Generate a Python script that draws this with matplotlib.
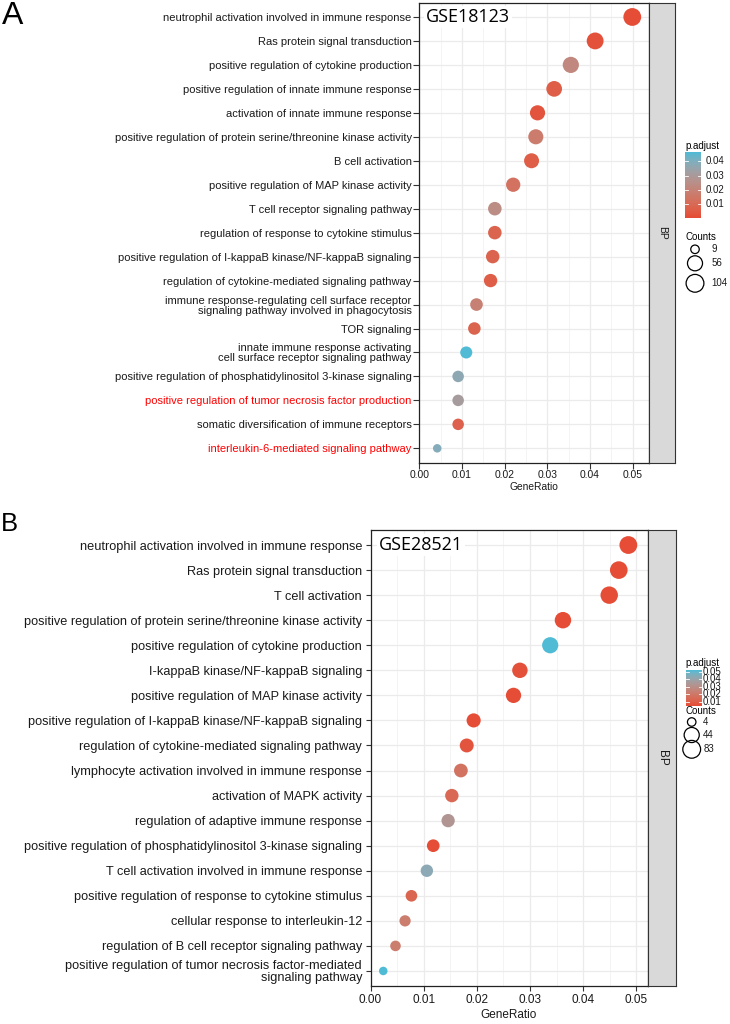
import numpy as np
import matplotlib
matplotlib.use("Agg")
import matplotlib.pyplot as plt
from matplotlib.colors import ListedColormap, Normalize

W, H = 730, 1024

# ---- panel A: GSE18123 ----
terms_a = [
    "neutrophil activation involved in immune response",
    "Ras protein signal transduction",
    "positive regulation of cytokine production",
    "positive regulation of innate immune response",
    "activation of innate immune response",
    "positive regulation of protein serine/threonine kinase activity",
    "B cell activation",
    "positive regulation of MAP kinase activity",
    "T cell receptor signaling pathway",
    "regulation of response to cytokine stimulus",
    "positive regulation of I-kappaB kinase/NF-kappaB signaling",
    "regulation of cytokine-mediated signaling pathway",
    "immune response-regulating cell surface receptor\nsignaling pathway involved in phagocytosis",
    "TOR signaling",
    "innate immune response activating\ncell surface receptor signaling pathway",
    "positive regulation of phosphatidylinositol 3-kinase signaling",
    "positive regulation of tumor necrosis factor production",
    "somatic diversification of immune receptors",
    "interleukin-6-mediated signaling pathway",
]
ratio_a = [0.0499, 0.0412, 0.0355, 0.0316, 0.0277, 0.0273, 0.0263, 0.0220, 0.0177,
           0.0177, 0.0172, 0.0167, 0.0134, 0.0129, 0.0110, 0.0091, 0.0091, 0.0091, 0.0042]
count_a = [104, 86, 74, 66, 58, 57, 55, 46, 37, 37, 36, 35, 28, 27, 23, 19, 19, 19, 9]
padj_a = [0.001, 0.002, 0.022, 0.006, 0.003, 0.017, 0.006, 0.013, 0.024, 0.008,
          0.008, 0.006, 0.019, 0.008, 0.046, 0.037, 0.031, 0.007, 0.039]
red_terms_a = ["positive regulation of tumor necrosis factor production",
               "interleukin-6-mediated signaling pathway"]
padj_lim_a = (0.0003, 0.0464)
padj_ticks_a = [0.01, 0.02, 0.03, 0.04]
count_legend_a = [9, 56, 104]

# ---- panel B: GSE28521 ----
terms_b = [
    "neutrophil activation involved in immune response",
    "Ras protein signal transduction",
    "T cell activation",
    "positive regulation of protein serine/threonine kinase activity",
    "positive regulation of cytokine production",
    "I-kappaB kinase/NF-kappaB signaling",
    "positive regulation of MAP kinase activity",
    "positive regulation of I-kappaB kinase/NF-kappaB signaling",
    "regulation of cytokine-mediated signaling pathway",
    "lymphocyte activation involved in immune response",
    "activation of MAPK activity",
    "regulation of adaptive immune response",
    "positive regulation of phosphatidylinositol 3-kinase signaling",
    "T cell activation involved in immune response",
    "positive regulation of response to cytokine stimulus",
    "cellular response to interleukin-12",
    "regulation of B cell receptor signaling pathway",
    "positive regulation of tumor necrosis factor-mediated\nsignaling pathway",
]
ratio_b = [0.0485, 0.0467, 0.0449, 0.0362, 0.0338, 0.0281, 0.0269, 0.0194, 0.0181,
           0.0170, 0.0153, 0.0146, 0.0118, 0.0106, 0.0077, 0.0065, 0.0047, 0.0024]
count_b = [83, 80, 77, 62, 58, 48, 46, 33, 31, 29, 26, 25, 20, 18, 13, 11, 8, 4]
padj_b = [0.0045, 0.005, 0.005, 0.005, 0.052, 0.006, 0.005, 0.005, 0.007,
          0.018, 0.014, 0.033, 0.005, 0.043, 0.013, 0.022, 0.022, 0.052]
padj_lim_b = (0.0043, 0.0523)
padj_ticks_b = [0.01, 0.02, 0.03, 0.04, 0.05]
count_legend_b = [4, 44, 83]

LOW, HIGH = "#E64B35", "#4DBBD5"
FONT = "Liberation Sans"
LEG_FS = 7.0


def _srgb_to_lab(rgb):
    c = np.asarray(rgb, float)
    lin = np.where(c <= 0.04045, c / 12.92, ((c + 0.055) / 1.055) ** 2.4)
    m = np.array([[0.4124, 0.3576, 0.1805], [0.2126, 0.7152, 0.0722], [0.0193, 0.1192, 0.9505]])
    xyz = m @ lin / np.array([0.95047, 1.0, 1.08883])
    f = np.where(xyz > 0.008856, np.cbrt(xyz), 7.787 * xyz + 16 / 116)
    return np.array([116 * f[1] - 16, 500 * (f[0] - f[1]), 200 * (f[1] - f[2])])


def _lab_to_srgb(lab):
    L, a, b = lab
    fy = (L + 16) / 116
    f = np.array([fy + a / 500, fy, fy - b / 200])
    xyz = np.where(f ** 3 > 0.008856, f ** 3, (f - 16 / 116) / 7.787) * np.array([0.95047, 1.0, 1.08883])
    m = np.array([[3.2406, -1.5372, -0.4986], [-0.9689, 1.8758, 0.0415], [0.0557, -0.2040, 1.0570]])
    lin = m @ xyz
    c = np.where(lin <= 0.0031308, 12.92 * lin, 1.055 * np.clip(lin, 0, None) ** (1 / 2.4) - 0.055)
    return np.clip(c, 0, 1)


def lab_cmap(low, high, n=256):
    l0 = _srgb_to_lab(matplotlib.colors.to_rgb(low))
    l1 = _srgb_to_lab(matplotlib.colors.to_rgb(high))
    cols = [_lab_to_srgb(l0 + (l1 - l0) * t) for t in np.linspace(0, 1, n)]
    return ListedColormap(cols)


CMAP = lab_cmap(LOW, HIGH)


def px_box(x0, y0, x1, y1):
    return [x0 / W, 1 - y1 / H, (x1 - x0) / W, (y1 - y0) / H]


def dot_area(c, cmin, cmax):
    t = (np.asarray(c, float) - cmin) / (cmax - cmin)
    d_px = 8.5 + 9.3 * np.sqrt(t)
    return (d_px * 0.72) ** 2


def draw_panel(fig, box, strip, title, terms, ratio, count, padj, lim, xmax,
               fs, xfs, tick_len, tick_pad, red_terms=()):
    ax = fig.add_axes(px_box(*box))
    n = len(terms)
    ys = np.arange(1, n + 1)
    ax.set_axisbelow(True)
    ax.scatter(ratio, ys, s=dot_area(count, min(count), max(count)),
               c=padj, cmap=CMAP, norm=Normalize(*lim), linewidths=0, zorder=3)
    ax.set_xlim(0, xmax)
    ax.set_ylim(n + 0.6, 0.4)
    ax.set_xticks([0, 0.01, 0.02, 0.03, 0.04, 0.05])
    ax.set_xticklabels(["0.00", "0.01", "0.02", "0.03", "0.04", "0.05"])
    ax.set_xticks(np.arange(0.005, xmax, 0.01), minor=True)
    ax.set_yticks(ys)
    ax.set_yticklabels(terms, linespacing=1.0)
    ax.grid(True, which="major", color="#EBEBEB", lw=0.9)
    ax.grid(True, which="minor", axis="x", color="#F2F2F2", lw=0.6)
    ax.tick_params(which="major", length=tick_len, width=0.8, color="#333333",
                   pad=tick_pad, labelcolor="#1A1A1A")
    ax.tick_params(axis="y", labelsize=fs)
    ax.tick_params(axis="x", labelsize=xfs)
    ax.tick_params(which="minor", length=0)
    for lab in ax.get_xticklabels() + ax.get_yticklabels():
        lab.set_fontfamily(FONT)
        if lab.get_text() in red_terms:
            lab.set_color("#FF0000")
    for sp in ax.spines.values():
        sp.set_color("#222222")
        sp.set_linewidth(0.9)
    ax.set_xlabel("GeneRatio", fontsize=xfs, family=FONT, color="#1A1A1A", labelpad=1.5)
    ax.text(0.03, 1 - 0.6 / (n + 0.2), title, transform=ax.transAxes,
            ha="left", va="center", fontsize=13, family="Open Sans", color="black",
            zorder=5, bbox=dict(facecolor="white", edgecolor="none", pad=1.5))

    sax = fig.add_axes(px_box(*strip))
    sax.set_facecolor("#D9D9D9")
    sax.set_xticks([])
    sax.set_yticks([])
    for sp in sax.spines.values():
        sp.set_color("#333333")
        sp.set_linewidth(0.8)
    sax.text(0.5, 0.5, "BP", rotation=270, ha="center", va="center",
             fontsize=xfs, family=FONT, color="#1A1A1A", transform=sax.transAxes)
    return ax


def draw_legend(over, x, y_title, cbar, lim, ticks, tick_x, counts, circ_x, circ_ys,
                count_title_y, lab_x):
    over.text(x, y_title, "p.adjust", fontsize=LEG_FS, family=FONT, va="center", ha="left")
    x0, y0, x1, y1 = cbar
    grad = np.linspace(lim[1], lim[0], 200).reshape(-1, 1)
    over.imshow(grad, cmap=CMAP, norm=Normalize(*lim), extent=(x0, x1, y1, y0),
                aspect="auto", interpolation="bilinear", zorder=2)
    for t in ticks:
        yy = y1 - (t - lim[0]) / (lim[1] - lim[0]) * (y1 - y0)
        over.plot([x0, x0 + 3], [yy, yy], color="white", lw=0.6, zorder=3)
        over.plot([x1 - 3, x1], [yy, yy], color="white", lw=0.6, zorder=3)
        over.text(tick_x, yy, f"{t:.2f}", fontsize=LEG_FS, family=FONT, va="center",
                  ha="left", color="#1A1A1A")
    over.text(x, count_title_y, "Counts", fontsize=LEG_FS, family=FONT, va="center", ha="left")
    areas = dot_area(counts, min(counts), max(counts))
    over.scatter([circ_x] * len(counts), circ_ys, s=areas, facecolors="none",
                 edgecolors="black", linewidths=0.9, zorder=3)
    for c, yy in zip(counts, circ_ys):
        over.text(lab_x, yy, str(c), fontsize=LEG_FS, family=FONT, va="center",
                  ha="left", color="#1A1A1A")


fig = plt.figure(figsize=(W / 100, H / 100), dpi=100)

draw_panel(fig, (419.3, 2.6, 648.5, 462.7), (648.5, 2.6, 675, 462.7), "GSE18123",
           terms_a, ratio_a, count_a, padj_a, padj_lim_a, 0.0537,
           fs=8.0, xfs=7.4, tick_len=4.0, tick_pad=1.5, red_terms=red_terms_a)
draw_panel(fig, (370.5, 530, 647.5, 986), (647.5, 530, 676, 986), "GSE28521",
           terms_b, ratio_b, count_b, padj_b, padj_lim_b, 0.0521,
           fs=9.2, xfs=8.5, tick_len=3.6, tick_pad=2.5)

over = fig.add_axes([0, 0, 1, 1])
over.set_xlim(0, W)
over.set_ylim(H, 0)
over.axis("off")
over.patch.set_alpha(0)

draw_legend(over, 685, 146, (685, 152.3, 701, 218.3), padj_lim_a, padj_ticks_a, 706,
            count_legend_a, 695, [249.3, 263.3, 283.3], 236.7, 711.7)
draw_legend(over, 685.5, 663, (685.5, 670, 701.5, 706), padj_lim_b, padj_ticks_b, 703,
            count_legend_b, 691.7, [722, 735, 749.3], 711.3, 703.3)

over.text(2, 1, "A", fontsize=23, family=FONT, va="top", ha="left")
over.text(1, 512, "B", fontsize=18.5, family=FONT, va="top", ha="left")

fig.savefig("out.png", dpi=100)
